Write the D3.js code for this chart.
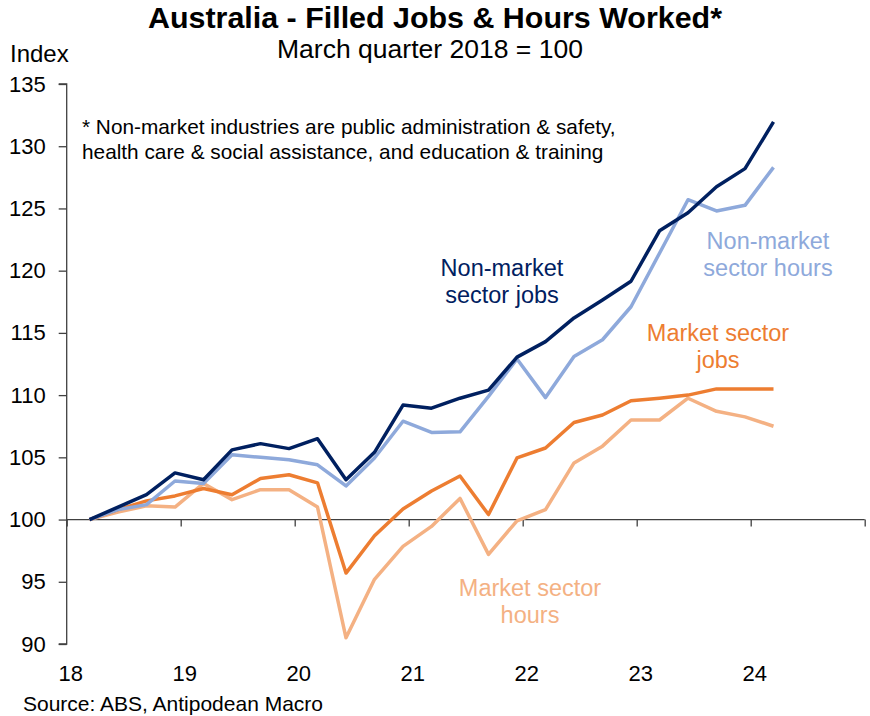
<!DOCTYPE html>
<html>
<head>
<meta charset="utf-8">
<script src="https://cdn.jsdelivr.net/npm/d3@7"></script>
<style>
  html, body { margin: 0; padding: 0; background: #fff; }
  svg { display: block; font-family: "Liberation Sans", Arial, sans-serif; }
</style>
</head>
<body>
<svg id="chart" width="870" height="716"></svg>
<script>
// Quarterly observations, March quarter 2018 to March quarter 2024
const quarters = d3.range(25).map(i => 18.2 + i * 0.25);
const nonMarketJobs  = [100, 101.0, 102.0, 103.75, 103.2, 105.6, 106.1, 105.7, 106.5, 103.2, 105.4, 109.2, 108.95, 109.75, 110.4, 113.05, 114.3, 116.2, 117.65, 119.15, 123.2, 124.65, 126.75, 128.2, 131.95];
const nonMarketHours = [100, 100.8, 101.2, 103.1, 102.9, 105.2, 105.0, 104.8, 104.4, 102.7, 104.95, 107.9, 107.0, 107.05, 109.9, 112.9, 109.8, 113.1, 114.45, 117.1, 121.4, 125.7, 124.8, 125.25, 128.3];
const marketJobs     = [100, 100.8, 101.5, 101.9, 102.5, 102.0, 103.3, 103.6, 102.95, 95.7, 98.7, 100.85, 102.3, 103.5, 100.4, 104.95, 105.75, 107.8, 108.4, 109.55, 109.75, 110.0, 110.5, 110.5, 110.5];
const marketHours    = [100, 100.6, 101.1, 101.0, 102.9, 101.6, 102.4, 102.4, 101.0, 90.5, 95.2, 97.85, 99.45, 101.7, 97.2, 99.9, 100.8, 104.55, 105.9, 108.0, 108.0, 109.75, 108.7, 108.25, 107.5];
const yearTicks = [18, 19, 20, 21, 22, 23, 24, 25];
const yearLabels = ["18", "19", "20", "21", "22", "23", "24"];
const yTicks = [90, 95, 100, 105, 110, 115, 120, 125, 130, 135];

const series = [
  { values: marketHours,    color: "#F4B183" },
  { values: marketJobs,     color: "#ED7D31" },
  { values: nonMarketHours, color: "#8EA9DB" },
  { values: nonMarketJobs,  color: "#002060" }
];

const svg = d3.select("#chart");
const x = d3.scaleLinear().domain([18, 25]).range([66.7, 864.7]);
const y = d3.scaleLinear().domain([90, 135]).range([644, 84]);
const axisColor = "#404040";

// Titles
svg.append("text").attr("x", 435).attr("y", 28).attr("text-anchor", "middle")
  .attr("font-size", 30).attr("font-weight", "bold").attr("fill", "#000")
  .attr("textLength", 574).attr("lengthAdjust", "spacingAndGlyphs")
  .text("Australia - Filled Jobs & Hours Worked*");
svg.append("text").attr("x", 430).attr("y", 58).attr("text-anchor", "middle")
  .attr("font-size", 26).attr("fill", "#000")
  .attr("textLength", 306).attr("lengthAdjust", "spacingAndGlyphs")
  .text("March quarter 2018 = 100");
svg.append("text").attr("x", 10).attr("y", 62)
  .attr("font-size", 24).attr("fill", "#000").text("Index");

// Y axis
const yAxis = d3.axisLeft(y).tickValues(yTicks).tickSize(8).tickPadding(13).tickFormat(d3.format("d"));
const gy = svg.append("g").attr("transform", `translate(${x(18)},0)`).call(yAxis);
gy.select(".domain").attr("stroke", axisColor).attr("stroke-width", 1.3).attr("d", `M-8,${y(135)}H0V${y(90)}H-8`);
gy.selectAll(".tick line").attr("stroke", axisColor).attr("stroke-width", 1.3);
gy.selectAll(".tick text").attr("font-size", 22).attr("fill", "#000").attr("font-family", "Liberation Sans, Arial, sans-serif");

// X axis crossing at 100
const xAxis = d3.axisBottom(x).tickValues(yearTicks).tickSize(7).tickFormat("");
const gx = svg.append("g").attr("transform", `translate(0,${y(100)})`).call(xAxis);
gx.select(".domain").attr("stroke", axisColor).attr("stroke-width", 1.3).attr("d", `M${x(18)},0H${x(25)}`);
gx.selectAll(".tick line").attr("stroke", axisColor).attr("stroke-width", 1.3);

// X labels at bottom
svg.append("g").selectAll("text").data(yearLabels).join("text")
  .attr("x", d => x(+d) + 4).attr("y", 681).attr("text-anchor", "middle")
  .attr("font-size", 22).attr("fill", "#000").text(d => d);

// Lines
const line = d3.line().x((d, i) => x(quarters[i])).y(d => y(d));
svg.append("g").selectAll("path").data(series).join("path")
  .attr("d", d => line(d.values)).attr("fill", "none")
  .attr("stroke", d => d.color).attr("stroke-width", 3.5)
  .attr("stroke-linejoin", "round");

// Note
const note = svg.append("text").attr("font-size", 20.8).attr("fill", "#000");
note.append("tspan").attr("x", 82).attr("y", 134).text("* Non-market industries are public administration & safety,");
note.append("tspan").attr("x", 82).attr("y", 159).text("health care & social assistance, and education & training");

// Series labels
const labels = [
  { lines: ["Non-market", "sector jobs"], cx: 502, y0: 276, color: "#002060" },
  { lines: ["Non-market", "sector hours"], cx: 768, y0: 249, color: "#8EA9DB" },
  { lines: ["Market sector", "jobs"], cx: 718, y0: 341, color: "#ED7D31" },
  { lines: ["Market sector", "hours"], cx: 530, y0: 596, color: "#F4B183" }
];
labels.forEach(l => {
  const t = svg.append("text").attr("text-anchor", "middle").attr("font-size", 23.5).attr("fill", l.color);
  l.lines.forEach((s, i) => t.append("tspan").attr("x", l.cx).attr("y", l.y0 + i * 27).text(s));
});

// Source
svg.append("text").attr("x", 23).attr("y", 711).attr("font-size", 21).attr("fill", "#000")
  .text("Source: ABS, Antipodean Macro");
</script>
</body>
</html>
